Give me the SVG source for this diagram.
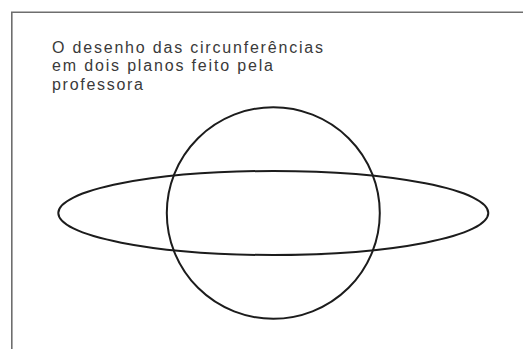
<svg xmlns="http://www.w3.org/2000/svg" width="523" height="349" viewBox="0 0 523 349">
<style>
.frame{fill:none;stroke:#6e6e6e;stroke-width:1.6}
.shape{fill:none;stroke:#1c1c1c;stroke-width:2}
.cap{font-family:"Liberation Sans",Arial,sans-serif;font-size:16px;fill:#3a3a3a}
</style>
<rect width="523" height="349" fill="#ffffff"/>
<path class="frame" d="M11.8,349 V12.3 H523"/>
<g id="caption">
<text class="cap" x="52" y="52.5" textLength="271" lengthAdjust="spacing">O desenho das circunferências</text>
<text class="cap" x="52" y="71" textLength="221" lengthAdjust="spacing">em dois planos feito pela</text>
<text class="cap" x="52" y="89.5" textLength="91" lengthAdjust="spacing">professora</text>
</g>
<g id="circle">
<ellipse class="shape" cx="273.3" cy="213" rx="106.5" ry="105.8"/>
</g>
<g id="ellipse">
<ellipse class="shape" cx="273.3" cy="213" rx="215" ry="42"/>
</g>
</svg>
